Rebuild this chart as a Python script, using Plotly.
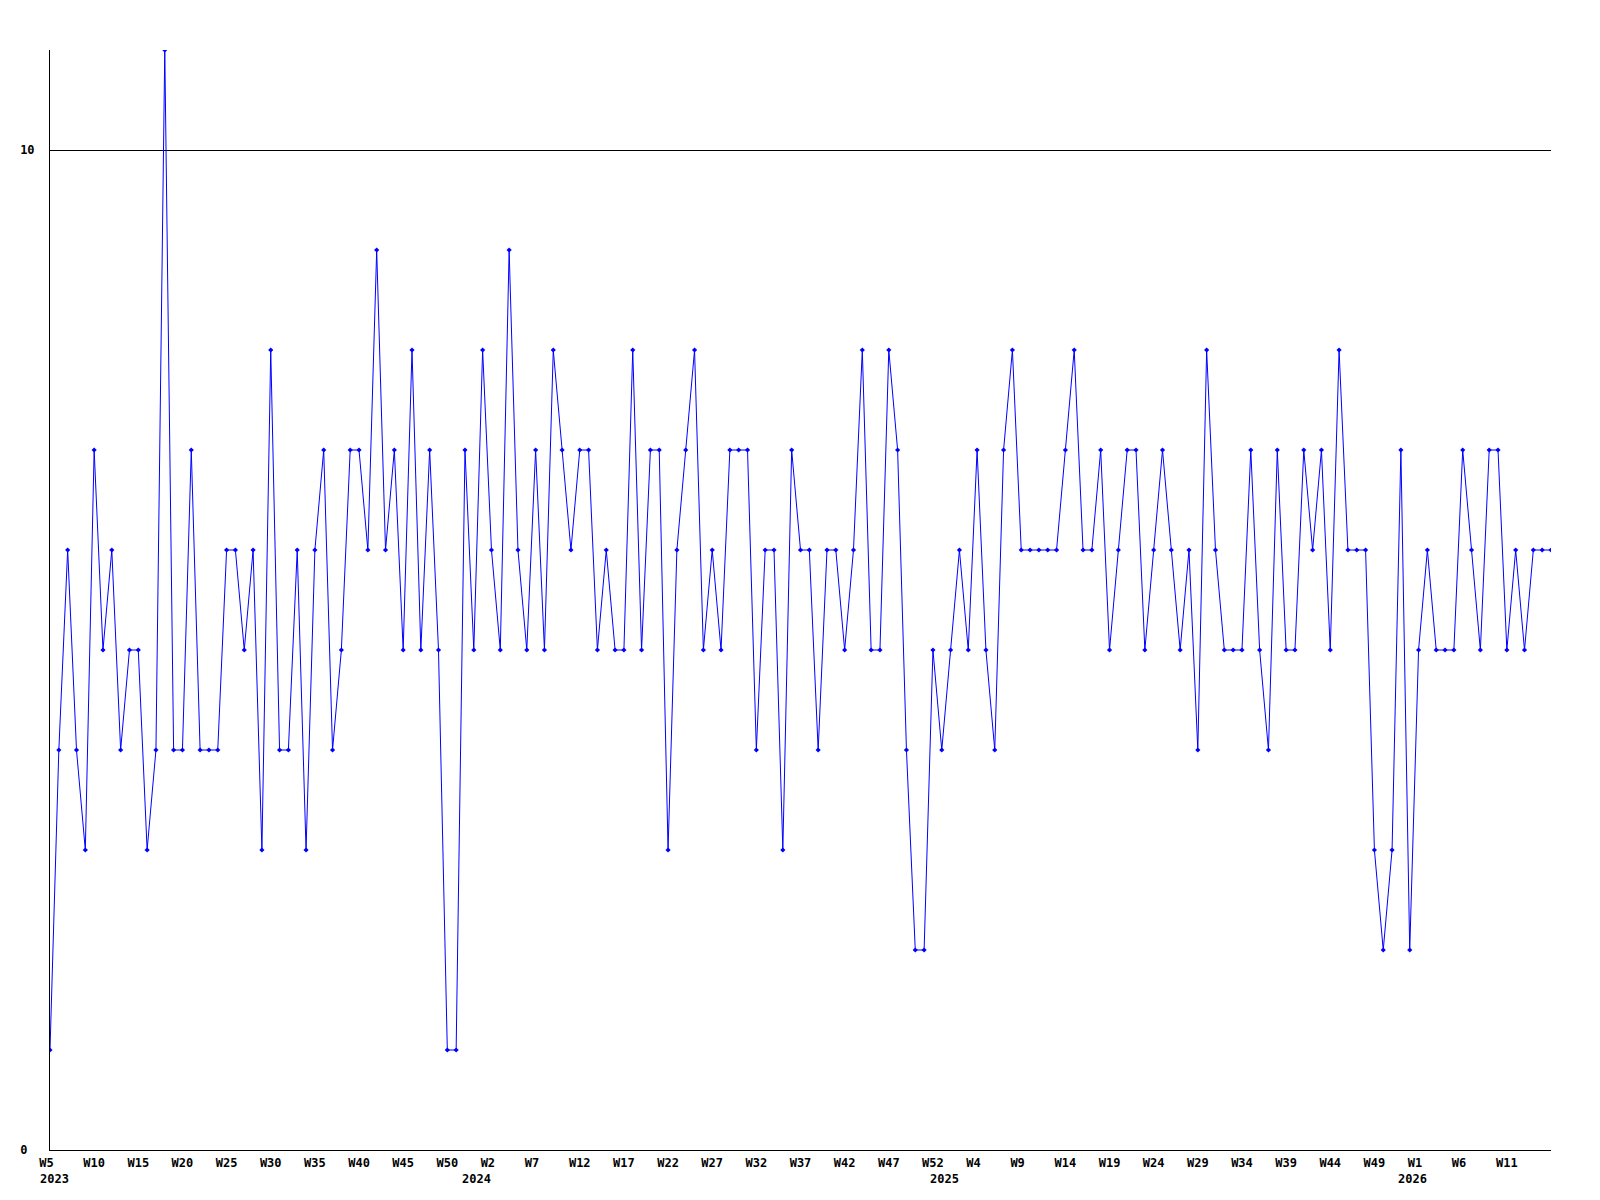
import plotly.graph_objects as go

# weekly counts (ISO weeks)
v2023 = [1, 4, 6, 4, 3, 7, 5, 6, 4, 5, 5, 3, 4, 11, 4, 4, 7, 4, 4, 4, 6, 6, 5, 6, 3, 8, 4, 4, 6,
         3, 6, 7, 4, 5, 7, 7, 6, 9, 6, 7, 5, 8, 5, 7, 5, 1, 1, 7]          # W5..W52
v2024 = [5, 8, 6, 5, 9, 6, 5, 7, 5,
         8, 7, 6, 7, 7, 5, 6, 5, 5, 8, 5, 7, 7, 3, 6, 7, 8, 5, 6, 5, 7, 7, 7, 4, 6, 6, 3, 7, 6,
         6, 4, 6, 6, 5, 6, 8, 5, 5, 8, 7, 4, 2, 2]                          # W1..W52
v2025 = [5, 4, 5, 6, 5, 7, 5, 4, 7, 8, 6, 6, 6, 6,
         6, 7, 8, 6, 6, 7, 5, 6, 7, 7, 5, 6, 7, 6, 5, 6, 4, 8, 6, 5, 5, 5, 7, 5, 4, 7, 5, 5,
         7, 6, 7, 5, 8, 6, 6, 6, 3, 2]                                      # W1..W52
v2026 = [3, 7, 2, 5, 6, 5, 5, 5, 7, 6, 5, 7, 7, 5, 6, 5, 6, 6, 6]          # W1..W19

weeks = [(2023, w) for w in range(5, 53)] + [(2024, w) for w in range(1, 53)] \
    + [(2025, w) for w in range(1, 53)] + [(2026, w) for w in range(1, 20)]
values = v2023 + v2024 + v2025 + v2026
idx = list(range(len(weeks)))

tick_weeks = [(2023, w) for w in range(5, 51, 5)] + [(2024, w) for w in range(2, 53, 5)] \
    + [(2025, w) for w in range(4, 50, 5)] + [(2026, w) for w in range(1, 12, 5)]
years = [2023, 2024, 2025, 2026]
y_ticks = [0, 10]

FONT = dict(family="DejaVu Sans Mono", size=12, color="black", weight="bold")


def label_pos(yr, wk):
    # the original labels drift one slot per year (as if each year had 53 weeks)
    return weeks.index((yr, wk)) + (yr - years[0])


fig = go.Figure()
fig.add_trace(go.Scatter(
    x=idx, y=values, mode="lines+markers",
    line=dict(color="#0000ff", width=1),
    marker=dict(symbol="diamond", size=4, color="#0000ff"),
    hoverinfo="y",
))

for yr in years:
    first = min(w for y, w in weeks if y == yr)
    fig.add_annotation(x=label_pos(yr, first), y=0, xref="x", yref="y", text=str(yr),
                       showarrow=False, xanchor="left", yanchor="top", yshift=-20,
                       xshift=-12 if yr == years[0] else -23, font=FONT)

# page body has an 8px default margin, so shift the plot area back
fig.update_layout(
    width=1600, height=1200,
    margin=dict(l=42, r=57, t=42, b=58),
    plot_bgcolor="white", paper_bgcolor="white",
    showlegend=False,
    font=FONT,
)
fig.update_xaxes(
    range=[0, len(weeks) - 1],
    tickvals=[label_pos(y, w) for y, w in tick_weeks],
    # pad short labels so every label starts at the same offset from its tick
    ticktext=[f"W{w}" + ("\u00a0" if w < 10 else "") for _, w in tick_weeks],
    showline=True, linecolor="black", linewidth=1,
    showgrid=False, zeroline=False, ticks="",
    tickfont=FONT, ticklabelstandoff=2, automargin=False,
)
fig.update_yaxes(
    range=[0, 11],
    tickvals=y_ticks,
    # left-aligned look: pad single digits on the right
    ticktext=[str(v) + ("\u00a0" if v < 10 else "") for v in y_ticks],
    showline=True, linecolor="black", linewidth=1,
    showgrid=True, gridcolor="black", gridwidth=1,
    zeroline=False, ticks="",
    tickfont=FONT, ticklabelstandoff=12, automargin=False,
)

fig.write_html("out.html")
